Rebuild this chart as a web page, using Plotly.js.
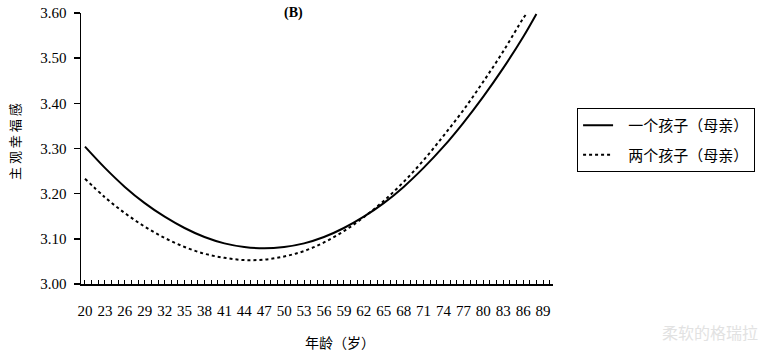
<!DOCTYPE html>
<html>
<head>
<meta charset="utf-8">
<script src="https://cdn.plot.ly/plotly-3.0.1.min.js"></script>
<style>html,body{margin:0;padding:0;background:#fff;}#chart{width:769px;height:354px;}</style>
</head>
<body>
<div id="chart"></div>
<script>
const agesOne = [20, 23, 26, 29, 32, 35, 38, 41, 44, 47, 50, 53, 56, 59, 62, 65, 68, 71, 74, 77, 80, 83, 86, 88];
const oneChild = [3.304, 3.257, 3.215, 3.179, 3.149, 3.124, 3.104, 3.090, 3.082, 3.079, 3.082, 3.090, 3.104, 3.124, 3.149, 3.179, 3.215, 3.257, 3.304, 3.357, 3.415, 3.478, 3.547, 3.598];
const agesTwo = [20, 23, 26, 29, 32, 35, 38, 41, 44, 47, 50, 53, 56, 59, 62, 65, 68, 71, 74, 77, 80, 83, 86, 86.6];
const twoChildren = [3.233, 3.192, 3.157, 3.127, 3.102, 3.082, 3.067, 3.058, 3.053, 3.054, 3.061, 3.073, 3.092, 3.117, 3.148, 3.184, 3.226, 3.274, 3.328, 3.385, 3.448, 3.515, 3.588, 3.600];
const seriesNames = ["一个孩子（母亲）", "两个孩子（母亲）"];
const xTickVals = [20, 23, 26, 29, 32, 35, 38, 41, 44, 47, 50, 53, 56, 59, 62, 65, 68, 71, 74, 77, 80, 83, 86, 89];
const yTickVals = [3.0, 3.1, 3.2, 3.3, 3.4, 3.5, 3.6];

const serif = "Liberation Serif, Times New Roman, serif";
const cjk = "Noto Sans CJK SC, sans-serif";
const pad = "\u00a0\u00a0\u00a0";

const traces = [
  {x: agesOne, y: oneChild, name: pad + seriesNames[0], mode: "lines", legendgroup: "a",
   line: {color: "#000", width: 2, shape: "spline"}},
  {x: agesTwo, y: twoChildren, name: pad + seriesNames[1], mode: "lines", legendgroup: "b",
   line: {color: "#000", width: 2, dash: "3px,3px", shape: "spline"}}
];

const layout = {
  width: 769, height: 354,
  margin: {l: 81, r: 216, t: 13, b: 70, autoexpand: false},
  paper_bgcolor: "#fff", plot_bgcolor: "#fff",
  showlegend: true,
  legend: {x: 1.051, y: (284 - 108) / 271, xanchor: "left", yanchor: "top",
    bordercolor: "#000", borderwidth: 1, bgcolor: "#fff",
    font: {family: cjk, size: 15, color: "#000"},
    traceorder: "grouped", tracegroupgap: 7},
  xaxis: {range: [19.4, 90.5], tickvals: xTickVals, ticktext: xTickVals.map(String),
    ticks: "inside", ticklen: 4, tickcolor: "#000", tickwidth: 1,
    minor: {dtick: 1, tick0: 20, ticks: "inside", ticklen: 4, tickcolor: "#000", tickwidth: 1},
    showline: true, linecolor: "#000", linewidth: 1.5, showgrid: false, zeroline: false,
    ticklabelstandoff: 12,
    tickfont: {family: serif, size: 15, color: "#000"}},
  yaxis: {range: [3.0, 3.6], tickvals: yTickVals, tickformat: ".2f",
    ticks: "outside", ticklen: 6, tickcolor: "#000", tickwidth: 1.5,
    showline: true, linecolor: "#000", linewidth: 1.5, showgrid: false, zeroline: false,
    ticklabelstandoff: 4,
    tickfont: {family: serif, size: 15, color: "#000"}},
  annotations: [
    {text: "<b>(B)</b>", xref: "paper", yref: "paper", x: (293 - 81) / 472, y: (284 - 13) / 271,
     xanchor: "center", yanchor: "middle", showarrow: false,
     font: {family: serif, size: 14, color: "#000"}},
    {text: "年龄（岁）", xref: "paper", yref: "paper", x: (340 - 81) / 472, y: (284 - 342) / 271,
     xanchor: "center", yanchor: "middle", showarrow: false,
     font: {family: cjk, size: 14, color: "#000"}},
    {text: "主 观 幸 福 感", xref: "paper", yref: "paper", x: (14 - 81) / 472, y: (284 - 142) / 271,
     xanchor: "center", yanchor: "middle", showarrow: false, textangle: -90,
     font: {family: cjk, size: 13, color: "#000"}},
    {text: "柔软的格瑞拉", xref: "paper", yref: "paper", x: (760 - 81) / 472, y: (284 - 332) / 271,
     xanchor: "right", yanchor: "middle", showarrow: false,
     font: {family: cjk, size: 16, color: "#e2e2e2"}}
  ]
};

Plotly.newPlot("chart", traces, layout, {displayModeBar: false, staticPlot: true});
</script>
</body>
</html>
